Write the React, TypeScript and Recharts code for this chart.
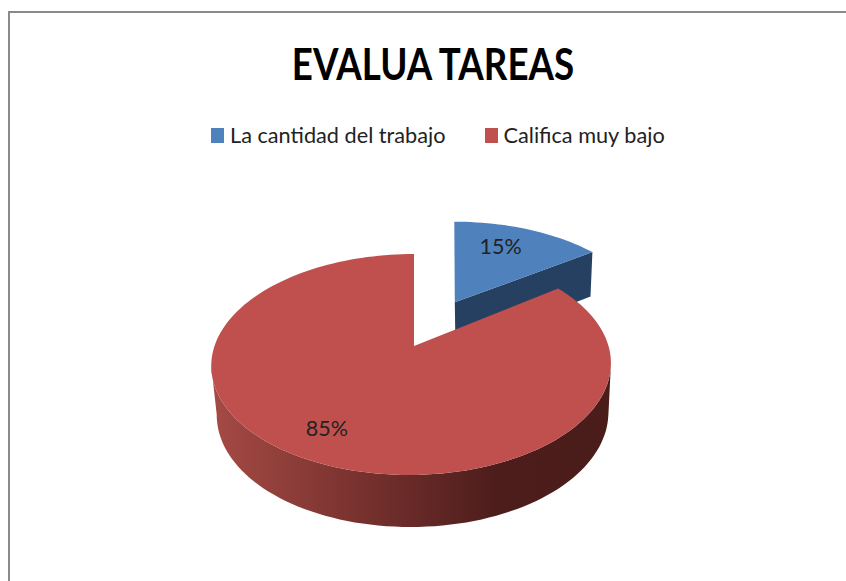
import React from 'react';
import { PieChart, Pie, Cell, Legend } from 'recharts';

const categories = ['La cantidad del trabajo', 'Califica muy bajo'];
const shares = [15, 85];
const topColors = ['#4F81BD', '#C0504D'];

const data = categories.map((name, i) => ({ name, value: shares[i] }));

// perspective of the tilted disc, fitted by eye on the reference
const K = 0.1675; // far side shrinks
const SQUASH = 0.545; // vertical / horizontal radius
const EXPLODE = 0.49; // how far the blue slice is pulled out

const rad = (a: number) => (a * Math.PI) / 180;

// recharts angle (90 = top, going down = clockwise) -> disc coords, y up
const onDisc = (angle: number, r = 1) => [r * Math.cos(rad(angle)), r * Math.sin(rad(angle))];

const project = (cx: number, cy: number, R: number, x: number, y: number) => {
    const w = 1 + K * y;
    return [cx + (R * x) / w, cy - (R * SQUASH * y) / w];
};

// same point on the underside of the disc
const projectBottom = (cx: number, cy: number, R: number, x: number, y: number) => {
    const [px, py] = project(cx, cy, R, x, y);
    return [cx + 1.5 + (px - cx) * 0.98, cy + (py - cy) * 0.985 + 48.5 - 5.5 * y];
};

const toPath = (pts: number[][]) => pts.map((p, i) => `${i ? 'L' : 'M'}${p[0].toFixed(1)},${p[1].toFixed(1)}`).join(' ');

const range = (from: number, to: number) => {
    const out: number[] = [];
    const n = Math.max(2, Math.ceil(Math.abs(to - from) / 2));
    for (let i = 0; i <= n; i++) out.push(from + ((to - from) * i) / n);
    return out;
};

const Slice3D = (props: any) => {
    const { cx, cy, outerRadius: R, startAngle, endAngle, midAngle, fill, value } = props;
    const isSmall = value < 50;
    const [ox, oy] = isSmall ? onDisc(midAngle, EXPLODE) : [0, 0];
    // small sideways drift of the rim, the 3D view is not quite centred
    const drift = (x: number, y: number) => Math.hypot(x, y) * (isSmall ? 5 : -2.5 * (1 - y));
    const top = (x: number, y: number) => {
        const p = project(cx, cy, R, x + ox, y + oy);
        return [p[0] + drift(x, y), p[1]];
    };
    const bottom = (x: number, y: number) => {
        const p = projectBottom(cx, cy, R, x + ox, y + oy);
        return [p[0] + drift(x, y), p[1]];
    };

    const arc = range(startAngle, endAngle).map((a) => onDisc(a));
    const topPts = [[0, 0], ...arc].map(([x, y]) => top(x, y));

    let wall: number[][];
    if (isSmall) {
        // only the cut edge facing the viewer shows
        const edge = onDisc(endAngle);
        wall = [top(0, 0), top(edge[0], edge[1]), bottom(edge[0], edge[1]), bottom(0, 0)];
    } else {
        // front half of the rim, left to right
        const rimFront = range(190, 350).map((a) => onDisc(a));
        wall = [...rimFront.map(([x, y]) => top(x, y)), ...rimFront.slice().reverse().map(([x, y]) => bottom(x, y))];
    }

    return (
        <g>
            <path d={toPath(wall) + ' Z'} fill={isSmall ? '#254061' : 'url(#redWall)'} stroke="none" />
            <path d={toPath(topPts) + ' Z'} fill={fill} stroke="none" />
        </g>
    );
};

const renderLabel = (props: any) => {
    const { cx, cy, outerRadius: R, midAngle, value } = props;
    const isSmall = value < 50;
    const [ox, oy] = isSmall ? onDisc(midAngle, EXPLODE) : [0, 0];
    const [lx, ly] = isSmall ? onDisc(midAngle + 3, 0.7) : onDisc(midAngle - 3, 0.8);
    const [x, y] = project(cx, cy, R, lx + ox, ly + oy);
    return (
        <text x={x + 2} y={y - 2} textAnchor="middle" dominantBaseline="central" fontSize={21.5} fontFamily="Lato" fill="#222">
            {value}%
        </text>
    );
};

const renderLegend = ({ payload }: any) => (
    <div style={{ display: 'flex', fontFamily: 'Lato', fontSize: 21.7, color: '#222', whiteSpace: 'nowrap' }}>
        {(payload || []).map((p: any, i: number) => (
            <div key={p.value} style={{ display: 'flex', alignItems: 'center', marginRight: i === 0 ? 39 : 0 }}>
                <span style={{ width: 13, height: 15, flexShrink: 0, background: p.color, marginRight: 6, display: 'inline-block' }} />
                <span>{p.value}</span>
            </div>
        ))}
    </div>
);

export default function App() {
    return (
        <div style={{ position: 'absolute', left: 0, top: 0, width: 846, height: 581, background: '#fff', overflow: 'hidden' }}>
            <div style={{ position: 'absolute', left: 8, top: 11, width: 840, height: 600, boxSizing: 'border-box', border: '2px solid #8a8a8a' }} />
            <div style={{ position: 'absolute', left: 0, width: 866, top: 36, textAlign: 'center', fontFamily: 'Lato', fontWeight: 700, fontSize: 43, color: '#000', lineHeight: '56px', transform: 'scaleX(0.854)' }}>
                EVALUA TAREAS
            </div>
            <div style={{ position: 'absolute', left: 0, top: 0 }}>
                <PieChart width={846} height={581} margin={{ top: 0, right: 0, bottom: 0, left: 0 }}>
                    <defs>
                        <linearGradient id="redWall" x1="0" y1="0" x2="1" y2="0">
                            <stop offset="0" stopColor="#A64A45" />
                            <stop offset="0.4" stopColor="#74302D" />
                            <stop offset="0.72" stopColor="#4C1D1B" />
                            <stop offset="1" stopColor="#4A1C1A" />
                        </linearGradient>
                    </defs>
                    <Legend content={renderLegend} itemSorter={null} wrapperStyle={{ position: 'absolute', left: 211, top: 122, width: 500 }} />
                    <Pie
                        data={data}
                        dataKey="value"
                        nameKey="name"
                        cx={414}
                        cy={346}
                        startAngle={90}
                        endAngle={-270}
                        outerRadius={197}
                        isAnimationActive={false}
                        shape={Slice3D}
                        label={renderLabel}
                        labelLine={false}
                        stroke="none"
                    >
                        {data.map((d, i) => (
                            <Cell key={d.name} fill={topColors[i]} />
                        ))}
                    </Pie>
                </PieChart>
            </div>
        </div>
    );
}
